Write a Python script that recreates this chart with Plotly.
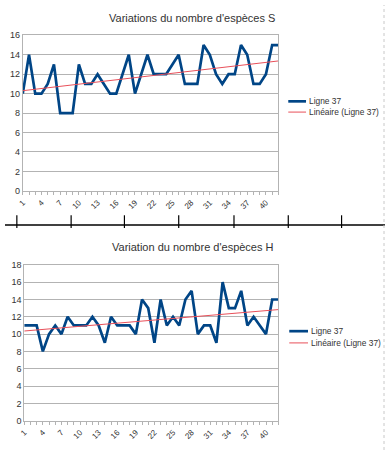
import numpy as np
import plotly.graph_objects as go

# ---------------- data ----------------
points = list(range(1, 43))
tick_values = [1, 4, 7, 10, 13, 16, 19, 22, 25, 28, 31, 34, 37, 40]
tick_labels = ["1", "4", "7", "10", "13", "16", "19", "22", "25", "28", "31", "34", "37", "40"]

species_S = [10, 14, 10, 10, 11, 13, 8, 8, 8, 13,
             11, 11, 12, 11, 10, 10, 12, 14, 10, 12,
             14, 12, 12, 12, 13, 14, 11, 11, 11, 15,
             14, 12, 11, 12, 12, 15, 14, 11, 11, 12,
             15, 15]
species_H = [11, 11, 11, 8, 10, 11, 10, 12, 11, 11,
             11, 12, 11, 9, 12, 11, 11, 11, 10, 14,
             13, 9, 14, 11, 12, 11, 14, 15, 10, 11,
             11, 9, 16, 13, 13, 15, 11, 12, 11, 10,
             14, 14]

title_S = "Variations du nombre d'espèces S"
title_H = "Variation du nombre d'espèces H"
series_name = "Ligne 37"
trend_name = "Linéaire (Ligne 37)"

# ---------------- style ----------------
W, H = 385, 455
FONT = "Liberation Sans, Arial, sans-serif"
LINE_COLOR = "#004586"
TREND_COLOR = "#e8505a"
GRID = "#b3b3b3"
TEXT = "#333333"


def py(px):
    return 1 - px / H


def px_x(px):
    return px / W


def linear_fit(xs, ys):
    slope, intercept = np.polyfit(xs, ys, 1)
    return [slope * x + intercept for x in xs]


fig = go.Figure()

fig.add_trace(go.Scatter(x=points, y=species_S, mode="lines", name=series_name,
                         line=dict(color=LINE_COLOR, width=2.7), xaxis="x", yaxis="y",
                         showlegend=False))
fig.add_trace(go.Scatter(x=points, y=linear_fit(points, species_S), mode="lines", name=trend_name,
                         line=dict(color=TREND_COLOR, width=1), xaxis="x", yaxis="y",
                         showlegend=False))
fig.add_trace(go.Scatter(x=points, y=species_H, mode="lines", name=series_name,
                         line=dict(color=LINE_COLOR, width=2.7), xaxis="x2", yaxis="y2",
                         showlegend=False))
fig.add_trace(go.Scatter(x=points, y=linear_fit(points, species_H), mode="lines", name=trend_name,
                         line=dict(color=TREND_COLOR, width=1), xaxis="x2", yaxis="y2",
                         showlegend=False))

xaxis_common = dict(
    range=[1, 42], tickmode="array", tickvals=tick_values, ticktext=tick_labels,
    tickangle=-45, tickfont=dict(family=FONT, size=8, color=TEXT),
    showgrid=False, zeroline=False, showline=True, linecolor=GRID, linewidth=1, mirror=True,
    ticks="outside", ticklen=3, tickcolor=GRID,
    minor=dict(tickmode="linear", tick0=1, dtick=1, ticks="outside", ticklen=3, tickcolor=GRID),
    fixedrange=True,
)
yaxis_common = dict(
    tickfont=dict(family=FONT, size=9, color=TEXT), dtick=2,
    showgrid=True, gridcolor=GRID, gridwidth=1, zeroline=False,
    showline=True, linecolor=GRID, linewidth=1, mirror=True, ticks="", fixedrange=True,
)

fig.update_layout(
    width=W, height=H, autosize=False,
    margin=dict(l=0, r=0, t=0, b=0),
    paper_bgcolor="white", plot_bgcolor="white",
    font=dict(family=FONT, color=TEXT),
    xaxis=dict(domain=[px_x(18), px_x(277)], anchor="y", **xaxis_common),
    yaxis=dict(domain=[py(190), py(31)], anchor="x", range=[0, 16], **yaxis_common),
    xaxis2=dict(domain=[px_x(19.5), px_x(277)], anchor="y2", **xaxis_common),
    yaxis2=dict(domain=[py(425), py(265.7)], anchor="x2", range=[0, 18], **yaxis_common),
    showlegend=False,
)

# titles
fig.add_annotation(text=title_S, x=px_x(189), y=py(13), xref="paper", yref="paper",
                   showarrow=False, font=dict(family=FONT, size=11, color=TEXT),
                   xanchor="center", yanchor="middle")
fig.add_annotation(text=title_H, x=px_x(190), y=py(247), xref="paper", yref="paper",
                   showarrow=False, font=dict(family=FONT, size=11, color=TEXT),
                   xanchor="center", yanchor="middle")

# legends (drawn as keys + labels)
def add_legend(y1, y2, x0, x1):
    for yy, color, width, label in ((y1, LINE_COLOR, 2.7, series_name),
                                    (y2, TREND_COLOR, 1, trend_name)):
        fig.add_shape(type="line", xref="paper", yref="paper",
                      x0=px_x(x0), x1=px_x(x1), y0=py(yy), y1=py(yy),
                      line=dict(color=color, width=width))
        fig.add_annotation(text=label, x=px_x(x1 + 1), y=py(yy), xref="paper", yref="paper",
                           showarrow=False, xanchor="left", yanchor="middle",
                           font=dict(family=FONT, size=8.4, color=TEXT))

add_legend(98.5, 109.5, 287, 305)
add_legend(333.5, 345.5, 288, 307)

# spreadsheet cell borders visible between the two charts
fig.add_shape(type="line", xref="paper", yref="paper", x0=0, x1=1, y0=py(225), y1=py(225),
              line=dict(color="black", width=1.5))
for cx in (12, 67, 121, 176, 232, 287, 341):
    fig.add_shape(type="line", xref="paper", yref="paper", x0=px_x(cx), x1=px_x(cx),
                  y0=py(215), y1=py(228), line=dict(color="black", width=1.2))
fig.add_shape(type="line", xref="paper", yref="paper", x0=px_x(384), x1=px_x(384), y0=0, y1=1,
              line=dict(color="#c8c8c8", width=1, dash="dot"))

fig.write_html("out.html", include_plotlyjs=True, config={"displayModeBar": False},
               post_script="document.body.style.margin='0';")
